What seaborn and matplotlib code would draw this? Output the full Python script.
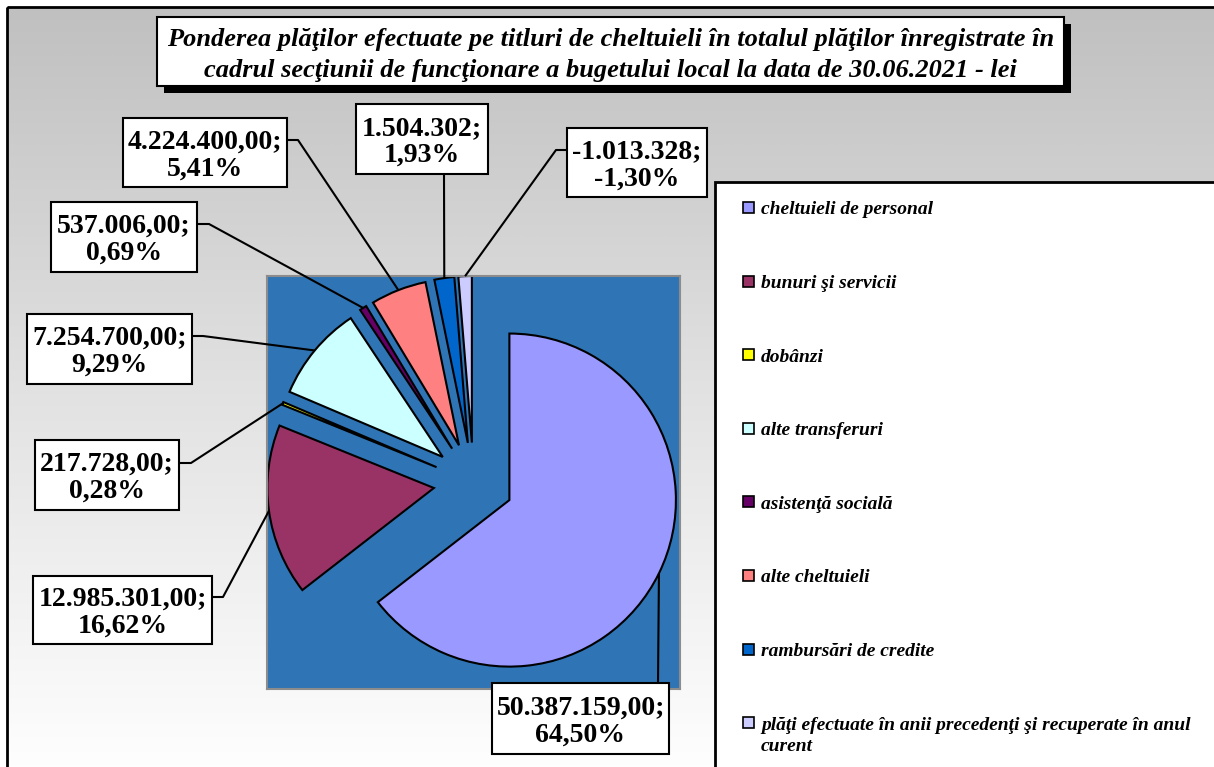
#Module
import numpy as np
import matplotlib
matplotlib.use('Agg')
import matplotlib.pyplot as plt
import matplotlib.colors as mcolors
from matplotlib.patches import Rectangle
import seaborn as sns

#Date: titluri de cheltuieli (lei)
categorii = ['cheltuieli de personal',
             'bunuri şi servicii',
             'dobânzi',
             'alte transferuri',
             'asistenţă socială',
             'alte cheltuieli',
             'rambursări de credite',
             'plăţi efectuate în anii precedenţi şi recuperate în anul\ncurent']
valori = [50387159, 12985301, 217728, 7254700, 537006, 4224400, 1504302, -1013328]
zecimale = [2, 2, 2, 2, 2, 2, 0, 0]
culori = ['#9999FF', '#993366', '#FFFF00', '#CCFFFF',
          '#660066', '#FF8080', '#0066CC', '#CCCCFF']

titlu = ('Ponderea plăţilor efectuate pe titluri de cheltuieli în totalul plăţilor înregistrate în\n'
         'cadrul secţiunii de funcţionare a bugetului local la data de 30.06.2021 - lei')

#Asezare etichete (pixeli): cutie (stanga, sus, latime, inaltime) si traseu linie
cutii = [(492, 683, 177, 71), (33, 576, 179, 68), (35, 440, 144, 70), (27, 314, 165, 70),
         (51, 202, 146, 70), (123, 118, 164, 69), (356, 104, 132, 70), (567, 128, 140, 69)]
trasee = [[(658, 683)],
          [(223, 597), (212, 597)],
          [(191, 463), (179, 463)],
          [(203, 336), (192, 336)],
          [(209, 224), (197, 224)],
          [(298, 140), (287, 140)],
          [(444, 174)],
          [(556, 150), (567, 150)]]


def ro(v, dec):
    s = f'{v:,.{dec}f}'
    return s.replace(',', 'X').replace('.', ',').replace('X', '.')


sns.set_theme(style='white')
plt.rcParams['font.family'] = ['Liberation Serif', 'DejaVu Serif']
plt.rcParams['text.color'] = 'black'

W, H = 1214, 767
fig = plt.figure(figsize=(W / 100, H / 100), dpi=100)
fig.patch.set_facecolor('white')

#Fundal cu gradient
bg = fig.add_axes([0, 0, 1, 1], zorder=0)
grad = np.linspace(0, 1, 500).reshape(-1, 1)
cmap = mcolors.LinearSegmentedColormap.from_list('g', ['#C0C0C0', '#E2E2E2', '#FFFFFF'])
bg.imshow(grad, cmap=cmap, extent=(7, W + 10, 780, 7), aspect='auto')
bg.add_patch(Rectangle((7, 7), W + 20, H + 20, fill=False, ec='black', lw=2))
bg.set_xlim(0, W)
bg.set_ylim(H, 0)
bg.axis('off')

#Diagrama
ax = fig.add_axes([267 / W, (H - 689) / H, 413 / W, 413 / H], zorder=1)
abs_val = np.abs(valori)
proc = np.array(valori) / abs_val.sum() * 100
felii, _ = ax.pie(abs_val, colors=sns.color_palette(culori), startangle=90,
                  counterclock=False, explode=[0.24] * len(valori),
                  wedgeprops=dict(edgecolor='black', linewidth=1.5))
ax.set_aspect('auto')
ax.set_xlim(-1.24, 1.24)
ax.set_ylim(-1.24, 1.24)
ax.set_frame_on(True)
ax.set_facecolor('#2F75B5')
for s in ax.spines.values():
    s.set_color('#8C8C8C')
    s.set_linewidth(1.5)
ax.set_xticks([])
ax.set_yticks([])

#Strat pentru etichete, titlu si legenda
ov = fig.add_axes([0, 0, 1, 1], zorder=2)
ov.set_xlim(0, W)
ov.set_ylim(H, 0)
ov.axis('off')
ov.patch.set_alpha(0)

for i, w in enumerate(felii):
    mid = np.deg2rad((w.theta1 + w.theta2) / 2)
    px = w.center[0] + w.r * np.cos(mid)
    py = w.center[1] + w.r * np.sin(mid)
    disp = ax.transData.transform((px, py))
    x0, y0 = ov.transData.inverted().transform(disp)
    xs = [x0] + [p[0] for p in trasee[i]]
    ys = [y0] + [p[1] for p in trasee[i]]
    ov.plot(xs, ys, color='black', lw=1.5, solid_capstyle='butt')
    l, t, cw, ch = cutii[i]
    ov.add_patch(Rectangle((l, t), cw, ch, fc='white', ec='black', lw=1.5))
    txt = ro(valori[i], zecimale[i]) + ';\n' + f'{proc[i]:.2f}'.replace('.', ',') + '%'
    ov.text(l + cw / 2, t + ch / 2 + 3, txt, ha='center', va='center', ma='center',
            fontsize=20, fontweight='bold', linespacing=1.12, color='black')

#Titlu
ov.add_patch(Rectangle((164, 24), 907, 69, fc='black', ec='none'))
ov.add_patch(Rectangle((157, 17), 907, 69, fc='white', ec='black', lw=1.5))
tt = ov.text(610.5, 55, titlu, ha='center', va='center', ma='center', fontsize=18,
             fontweight='bold', fontstyle='italic', linespacing=1.4, color='black')
r = fig.canvas.get_renderer()
lat = tt.get_window_extent(r).width
tt.set_fontsize(18 * 888 / lat)

#Legenda
ov.add_patch(Rectangle((715, 182), 520, 600, fc='white', ec='black', lw=2))
for i, c in enumerate(categorii):
    yc = 207.5 + i * 73.6
    ov.add_patch(Rectangle((743, yc - 5.5), 11, 11, fc=culori[i], ec='black', lw=1.2))
    ov.text(761, yc - 6, c, ha='left', va='top', fontsize=14,
            fontweight='bold', fontstyle='italic', linespacing=1.35, color='black')

fig.savefig('out.png', dpi=100)
